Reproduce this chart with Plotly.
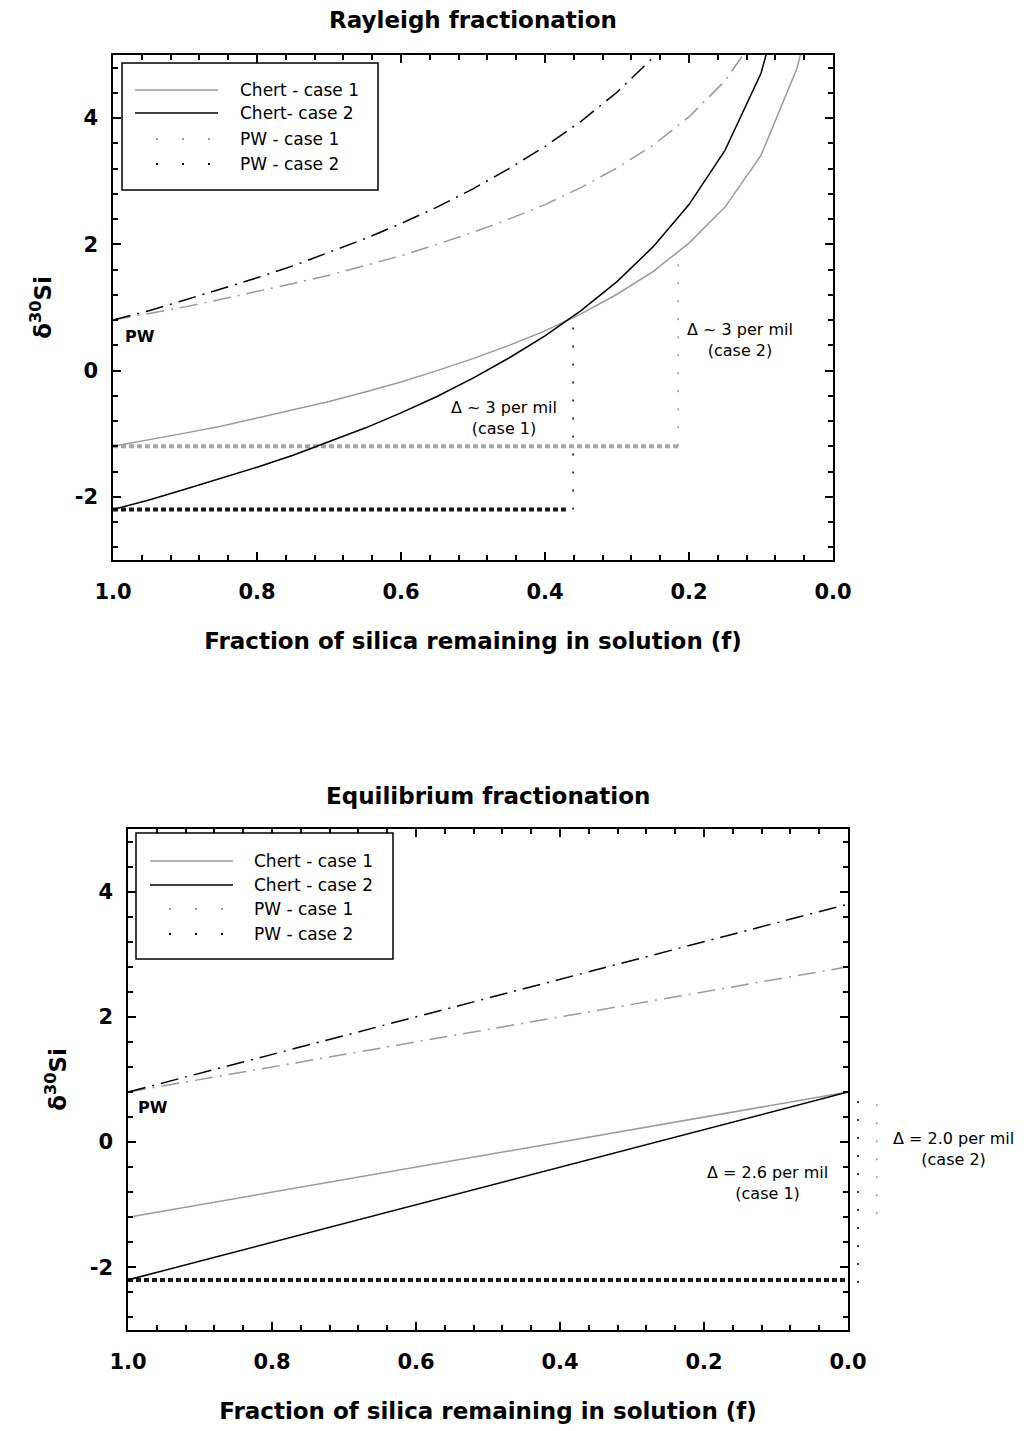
import plotly.graph_objects as go

W, H = 1024, 1431


def px(x):
    return x / W


def py(y):
    return 1 - y / H


# ---------------- data ----------------
# Rayleigh fractionation (top)
f_ray = [1.0, 0.95, 0.9, 0.85, 0.8, 0.75, 0.7, 0.65, 0.6, 0.55, 0.5,
         0.45, 0.4, 0.35, 0.3, 0.25, 0.2, 0.15, 0.1, 0.05, 0.04]
chert1_ray = [-1.2, -1.10, -0.99, -0.88, -0.75, -0.62, -0.49, -0.34, -0.18, 0.00, 0.19,
              0.40, 0.63, 0.90, 1.21, 1.57, 2.02, 2.59, 3.41, 4.79, 5.24]
chert2_ray = [-2.2, -2.05, -1.88, -1.71, -1.53, -1.34, -1.13, -0.91, -0.67, -0.41, -0.12,
              0.20, 0.55, 0.95, 1.41, 1.96, 2.63, 3.49, 4.71, 6.79, 7.46]
pw1_ray = [0.80, 0.90, 1.01, 1.13, 1.25, 1.38, 1.51, 1.66, 1.82, 2.00, 2.19,
           2.40, 2.63, 2.90, 3.21, 3.57, 4.02, 4.59, 5.41, 6.79, 7.24]
pw2_ray = [0.80, 0.95, 1.12, 1.29, 1.47, 1.66, 1.87, 2.09, 2.33, 2.59, 2.88,
           3.20, 3.55, 3.95, 4.41, 4.96, 5.63, 6.49, 7.71, 9.79, 10.46]

# offset (Delta) markers, top
ray_c1_base_f = [1.0, 0.2125]
ray_c1_base_y = [-1.2, -1.2]
ray_c1_delta_f = [0.215, 0.215]
ray_c1_delta_y = [-1.2, 1.87]
ray_c2_base_f = [1.0, 0.371]
ray_c2_base_y = [-2.2, -2.2]
ray_c2_delta_f = [0.361, 0.361]
ray_c2_delta_y = [-2.2, 0.83]

# Equilibrium fractionation (bottom)
f_eq = [1.0, 0.0]
chert1_eq = [-1.2, 0.8]
chert2_eq = [-2.2, 0.8]
pw1_eq = [0.8, 2.8]
pw2_eq = [0.8, 3.8]
eq_c2_base_f = [1.0, 0.0]
eq_c2_base_y = [-2.2, -2.2]
eq_delta_black_f = [-0.014, -0.014]
eq_delta_black_y = [-2.25, 0.8]
eq_delta_gray_f = [-0.040, -0.040]
eq_delta_gray_y = [-1.15, 0.8]

x_tickvals = [1.0, 0.8, 0.6, 0.4, 0.2, 0.0]
x_ticktext = ["1.0", "0.8", "0.6", "0.4", "0.2", "0.0"]
y_tickvals = [-2, 0, 2, 4]
y_ticktext = ["-2", "0", "2", "4"]

legend_labels_top = ["Chert - case 1", "Chert- case 2", "PW - case 1", "PW - case 2"]
legend_labels_bot = ["Chert - case 1", "Chert - case 2", "PW - case 1", "PW - case 2"]

GRAY = "#9a9a9a"
LIGHTGRAY = "#a6a6a6"
BLACK = "#000000"
FONT = "DejaVu Sans"
DASHDOT = "18px,7px,2px,7px"
THICKDOT = "5px,3px"
THINDOT = "2px,16px"

fig = go.Figure()


def add(x, y, xa, ya, color, width, dash="solid"):
    fig.add_trace(go.Scatter(x=x, y=y, xaxis=xa, yaxis=ya, mode="lines",
                             line=dict(color=color, width=width, dash=dash),
                             showlegend=False, hoverinfo="skip"))


# top panel
add(ray_c1_base_f, ray_c1_base_y, "x", "y", LIGHTGRAY, 4, THICKDOT)
add(ray_c2_base_f, ray_c2_base_y, "x", "y", "#1a1a1a", 4, THICKDOT)
add(ray_c1_delta_f, ray_c1_delta_y, "x", "y", GRAY, 1.5, THINDOT)
add(ray_c2_delta_f, ray_c2_delta_y, "x", "y", BLACK, 1.5, THINDOT)
add(f_ray, chert1_ray, "x", "y", GRAY, 1.5)
add(f_ray, chert2_ray, "x", "y", BLACK, 1.5)
add(f_ray, pw1_ray, "x", "y", GRAY, 1.5, DASHDOT)
add(f_ray, pw2_ray, "x", "y", BLACK, 1.5, DASHDOT)

# bottom panel
add(eq_c2_base_f, eq_c2_base_y, "x2", "y2", "#1a1a1a", 4, THICKDOT)
add(f_eq, chert1_eq, "x2", "y2", GRAY, 1.5)
add(f_eq, chert2_eq, "x2", "y2", BLACK, 1.5)
add(f_eq, pw1_eq, "x2", "y2", GRAY, 1.5, DASHDOT)
add(f_eq, pw2_eq, "x2", "y2", BLACK, 1.5, DASHDOT)
# Delta bars drawn just right of the frame (on invisible, wider helper axes)
add(eq_delta_black_f, eq_delta_black_y, "x3", "y3", BLACK, 1.5, THINDOT)
add(eq_delta_gray_f, eq_delta_gray_y, "x3", "y3", GRAY, 1.5, THINDOT)

tick_font = dict(family=FONT, size=21, color="black", weight="bold")
title_font = dict(family=FONT, size=23, color="black", weight="bold")


def xaxis_cfg(domain, anchor):
    return dict(domain=domain, anchor=anchor, range=[1, 0], autorange=False,
                automargin=False,
                tickmode="array", tickvals=x_tickvals, ticktext=x_ticktext,
                ticks="inside", ticklen=8, tickwidth=1.5, tickcolor="black",
                minor=dict(tickmode="linear", tick0=0, dtick=0.04, ticks="inside",
                           ticklen=5, tickwidth=1.5, tickcolor="black"),
                showline=True, linecolor="black", linewidth=1.5, mirror="allticks",
                showgrid=False, zeroline=False, tickfont=tick_font,
                ticklabelstandoff=12,
                title=dict(text="Fraction of silica remaining in solution (f)",
                           font=title_font, standoff=30))


def yaxis_cfg(domain, anchor):
    return dict(domain=domain, anchor=anchor, range=[-3, 5], autorange=False,
                automargin=False,
                tickmode="array", tickvals=y_tickvals, ticktext=y_ticktext,
                ticks="inside", ticklen=8, tickwidth=1.5, tickcolor="black",
                minor=dict(tickmode="linear", tick0=0, dtick=0.4, ticks="inside",
                           ticklen=5, tickwidth=1.5, tickcolor="black"),
                showline=True, linecolor="black", linewidth=1.5, mirror="allticks",
                showgrid=False, zeroline=False, tickfont=tick_font,
                ticklabelstandoff=9,
                title=dict(text="δ<sup>30</sup>Si", font=title_font, standoff=17))


top_x = [px(113), px(833)]
top_y = [py(560), py(55)]
bot_x = [px(128), px(848)]
bot_y = [py(1330), py(829)]
ext_right = 905
x3_range = [1, 1 - (ext_right - 128) / 720]

fig.update_layout(
    template="none",
    width=W, height=H,
    margin=dict(l=0, r=0, t=0, b=0, autoexpand=False),
    paper_bgcolor="white", plot_bgcolor="rgba(0,0,0,0)",
    showlegend=False,
    font=dict(family=FONT, color="black"),
    xaxis=xaxis_cfg(top_x, "y"),
    yaxis=yaxis_cfg(top_y, "x"),
    xaxis2=xaxis_cfg(bot_x, "y2"),
    yaxis2=yaxis_cfg(bot_y, "x2"),
    xaxis3=dict(domain=[px(128), px(ext_right)], anchor="y3", range=x3_range,
                autorange=False, visible=False, automargin=False),
    yaxis3=dict(domain=bot_y, anchor="x3", range=[-3, 5], autorange=False,
                visible=False, automargin=False),
)

annotations = []
shapes = []

# panel titles
annotations.append(dict(text="Rayleigh fractionation", xref="x domain", yref="paper",
                        x=0.5, y=py(20), xanchor="center", yanchor="middle",
                        showarrow=False, font=title_font))
annotations.append(dict(text="Equilibrium fractionation", xref="x2 domain", yref="paper",
                        x=0.5, y=py(796), xanchor="center", yanchor="middle",
                        showarrow=False, font=title_font))

# PW labels
pw_font = dict(family=FONT, size=16, color="black", weight="bold")
annotations.append(dict(text="PW", xref="x", yref="y", x=0.986, y=0.54,
                        xanchor="left", yanchor="middle", showarrow=False, font=pw_font))
annotations.append(dict(text="PW", xref="x2", yref="y2", x=0.989, y=0.56,
                        xanchor="left", yanchor="middle", showarrow=False, font=pw_font))

ann_font = dict(family=FONT, size=16, color="black")
annotations.append(dict(text="Δ ~ 3 per mil<br>(case 2)", xref="x", yref="y",
                        x=0.129, y=0.49, xanchor="center", yanchor="middle",
                        align="center", showarrow=False, font=ann_font))
annotations.append(dict(text="Δ ~ 3 per mil<br>(case 1)", xref="x", yref="y",
                        x=0.457, y=-0.75, xanchor="center", yanchor="middle",
                        align="center", showarrow=False, font=ann_font))
annotations.append(dict(text="Δ = 2.6 per mil<br>(case 1)", xref="x2", yref="y2",
                        x=0.1125, y=-0.66, xanchor="center", yanchor="middle",
                        align="center", showarrow=False, font=ann_font))
annotations.append(dict(text="Δ = 2.0 per mil<br>(case 2)", xref="paper", yref="paper",
                        x=px(953), y=py(1149), xanchor="center", yanchor="middle",
                        align="center", showarrow=False, font=ann_font))


# manual legends
def legend(box, x0, x1, tx, rows, labels, dots):
    shapes.append(dict(type="rect", xref="paper", yref="paper",
                       x0=px(box[0]), x1=px(box[1]), y0=py(box[3]), y1=py(box[2]),
                       line=dict(color="black", width=1.5), fillcolor="white",
                       layer="above"))
    styles = [(GRAY, "solid"), (BLACK, "solid"), (GRAY, "2px,24px"), (BLACK, "2px,24px")]
    for i, (lab, yy) in enumerate(zip(labels, rows)):
        col, dash = styles[i]
        if dash == "solid":
            sx0, sx1 = x0, x1
        else:
            sx0, sx1 = dots[0] - 1, dots[1] + 1
        shapes.append(dict(type="line", xref="paper", yref="paper",
                           x0=px(sx0), x1=px(sx1), y0=py(yy), y1=py(yy),
                           line=dict(color=col, width=1.5 if dash == "solid" else 2, dash=dash),
                           layer="above"))
        annotations.append(dict(text=lab, xref="paper", yref="paper", x=px(tx), y=py(yy),
                                xanchor="left", yanchor="middle", showarrow=False,
                                font=dict(family=FONT, size=17, color="black")))


legend((122, 378, 63, 190), 135, 218, 238, [90, 113, 139, 164], legend_labels_top, (157, 209))
legend((136, 393, 833, 959), 150, 233, 252, [861, 885, 909, 934], legend_labels_bot, (170, 225))

fig.update_layout(annotations=annotations, shapes=shapes)

fig.write_html("out.html")
